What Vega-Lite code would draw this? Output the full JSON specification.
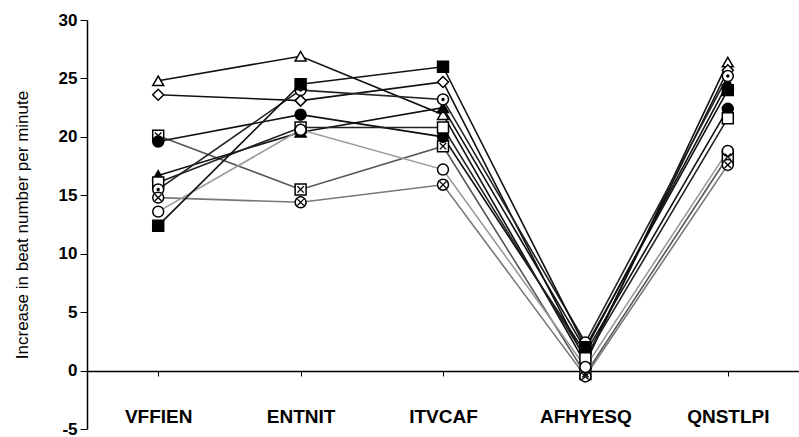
{
  "$schema": "https://vega.github.io/schema/vega-lite/v6.json",
  "width": 712,
  "height": 409,
  "autosize": "none",
  "padding": {"left": 87, "top": 20, "right": 0, "bottom": 8},
  "background": "white",
  "config": {"view": {"stroke": null}, "font": "Liberation Sans"},
  "data": {
    "values": [
      {"series": "S1", "peptide": "VFFIEN", "value": 24.8},
      {"series": "S1", "peptide": "ENTNIT", "value": 26.9},
      {"series": "S1", "peptide": "ITVCAF", "value": 21.9},
      {"series": "S1", "peptide": "AFHYESQ", "value": 0.6},
      {"series": "S1", "peptide": "QNSTLPI", "value": 26.4},
      {"series": "S2", "peptide": "VFFIEN", "value": 23.6},
      {"series": "S2", "peptide": "ENTNIT", "value": 23.1},
      {"series": "S2", "peptide": "ITVCAF", "value": 24.7},
      {"series": "S2", "peptide": "AFHYESQ", "value": 0.9},
      {"series": "S2", "peptide": "QNSTLPI", "value": 25.7},
      {"series": "S3", "peptide": "VFFIEN", "value": 20.1},
      {"series": "S3", "peptide": "ENTNIT", "value": 15.5},
      {"series": "S3", "peptide": "ITVCAF", "value": 19.2},
      {"series": "S3", "peptide": "AFHYESQ", "value": -0.3},
      {"series": "S3", "peptide": "QNSTLPI", "value": 18.3},
      {"series": "S4", "peptide": "VFFIEN", "value": 19.6},
      {"series": "S4", "peptide": "ENTNIT", "value": 21.9},
      {"series": "S4", "peptide": "ITVCAF", "value": 20.0},
      {"series": "S4", "peptide": "AFHYESQ", "value": 1.5},
      {"series": "S4", "peptide": "QNSTLPI", "value": 22.4},
      {"series": "S5", "peptide": "VFFIEN", "value": 16.7},
      {"series": "S5", "peptide": "ENTNIT", "value": 20.4},
      {"series": "S5", "peptide": "ITVCAF", "value": 22.5},
      {"series": "S5", "peptide": "AFHYESQ", "value": 1.8},
      {"series": "S5", "peptide": "QNSTLPI", "value": 24.6},
      {"series": "S6", "peptide": "VFFIEN", "value": 16.1},
      {"series": "S6", "peptide": "ENTNIT", "value": 20.8},
      {"series": "S6", "peptide": "ITVCAF", "value": 20.8},
      {"series": "S6", "peptide": "AFHYESQ", "value": 1.1},
      {"series": "S6", "peptide": "QNSTLPI", "value": 21.6},
      {"series": "S7", "peptide": "VFFIEN", "value": 15.5},
      {"series": "S7", "peptide": "ENTNIT", "value": 24.0},
      {"series": "S7", "peptide": "ITVCAF", "value": 23.2},
      {"series": "S7", "peptide": "AFHYESQ", "value": 2.4},
      {"series": "S7", "peptide": "QNSTLPI", "value": 25.2},
      {"series": "S8", "peptide": "VFFIEN", "value": 14.8},
      {"series": "S8", "peptide": "ENTNIT", "value": 14.4},
      {"series": "S8", "peptide": "ITVCAF", "value": 15.9},
      {"series": "S8", "peptide": "AFHYESQ", "value": -0.5},
      {"series": "S8", "peptide": "QNSTLPI", "value": 17.6},
      {"series": "S9", "peptide": "VFFIEN", "value": 13.6},
      {"series": "S9", "peptide": "ENTNIT", "value": 20.6},
      {"series": "S9", "peptide": "ITVCAF", "value": 17.2},
      {"series": "S9", "peptide": "AFHYESQ", "value": 0.3},
      {"series": "S9", "peptide": "QNSTLPI", "value": 18.8},
      {"series": "S10", "peptide": "VFFIEN", "value": 12.4},
      {"series": "S10", "peptide": "ENTNIT", "value": 24.5},
      {"series": "S10", "peptide": "ITVCAF", "value": 26.0},
      {"series": "S10", "peptide": "AFHYESQ", "value": 2.0},
      {"series": "S10", "peptide": "QNSTLPI", "value": 24.0}
    ]
  },
  "encoding": {
    "x": {
      "field": "peptide",
      "type": "ordinal",
      "sort": ["VFFIEN", "ENTNIT", "ITVCAF", "AFHYESQ", "QNSTLPI"],
      "scale": {"type": "point", "padding": 0.5},
      "axis": {
        "title": null,
        "offset": -58,
        "labelAngle": 0,
        "labelFont": "Liberation Sans",
        "labelFontWeight": "bold",
        "labelFontSize": 19,
        "labelColor": "black",
        "labelPadding": 31,
        "tickSize": 5,
        "tickColor": "black",
        "domainColor": "black",
        "domainWidth": 1.5,
        "grid": false
      }
    },
    "y": {
      "field": "value",
      "type": "quantitative",
      "scale": {"domain": [-5, 30], "nice": false, "zero": false},
      "axis": {
        "title": "Increase in beat number per minute",
        "values": [-5, 0, 5, 10, 15, 20, 25, 30],
        "labelExpr": "replace(datum.label, '\u2212', '-')",
        "labelFont": "Liberation Sans",
        "labelFontWeight": "bold",
        "labelFontSize": 17,
        "labelColor": "black",
        "labelPadding": 3,
        "tickSize": 7,
        "tickColor": "black",
        "domainColor": "black",
        "domainWidth": 1.5,
        "grid": false,
        "titleFont": "Liberation Sans",
        "titleFontSize": 17,
        "titleFontWeight": "normal",
        "titleColor": "black",
        "titlePadding": 27
      }
    }
  },
  "layer": [
    {
      "mark": {"type": "line", "strokeWidth": 1.6},
      "encoding": {
        "detail": {"field": "series"},
        "color": {
          "field": "series",
          "type": "nominal",
          "scale": {
            "domain": ["S1", "S2", "S3", "S4", "S5", "S6", "S7", "S8", "S9", "S10"],
            "range": ["#111", "#111", "#555", "#111", "#111", "#222", "#222", "#777", "#999", "#111"]
          },
          "legend": null
        }
      }
    },
    {
      "mark": {"type": "point", "filled": true, "size": 120, "stroke": "black", "strokeWidth": 1.5, "opacity": 1},
      "encoding": {
        "shape": {
          "field": "series",
          "type": "nominal",
          "scale": {
            "domain": ["S1", "S2", "S3", "S4", "S5", "S6", "S7", "S8", "S9", "S10"],
            "range": ["triangle-up", "diamond", "square", "circle", "triangle-up", "square", "circle", "circle", "circle", "square"]
          },
          "legend": null
        },
        "fill": {
          "field": "series",
          "type": "nominal",
          "scale": {
            "domain": ["S1", "S2", "S3", "S4", "S5", "S6", "S7", "S8", "S9", "S10"],
            "range": ["white", "white", "white", "black", "black", "white", "white", "white", "white", "black"]
          },
          "legend": null
        }
      }
    },
    {
      "transform": [{"filter": {"field": "series", "oneOf": ["S3", "S8"]}}],
      "mark": {"type": "point", "filled": false, "shape": "M-1,-1L1,1M-1,1L1,-1", "size": 40, "stroke": "black", "strokeWidth": 1.3, "opacity": 1}
    },
    {
      "transform": [{"filter": {"field": "series", "equal": "S7"}}],
      "mark": {"type": "point", "filled": true, "shape": "circle", "size": 12, "color": "black", "opacity": 1}
    }
  ]
}
